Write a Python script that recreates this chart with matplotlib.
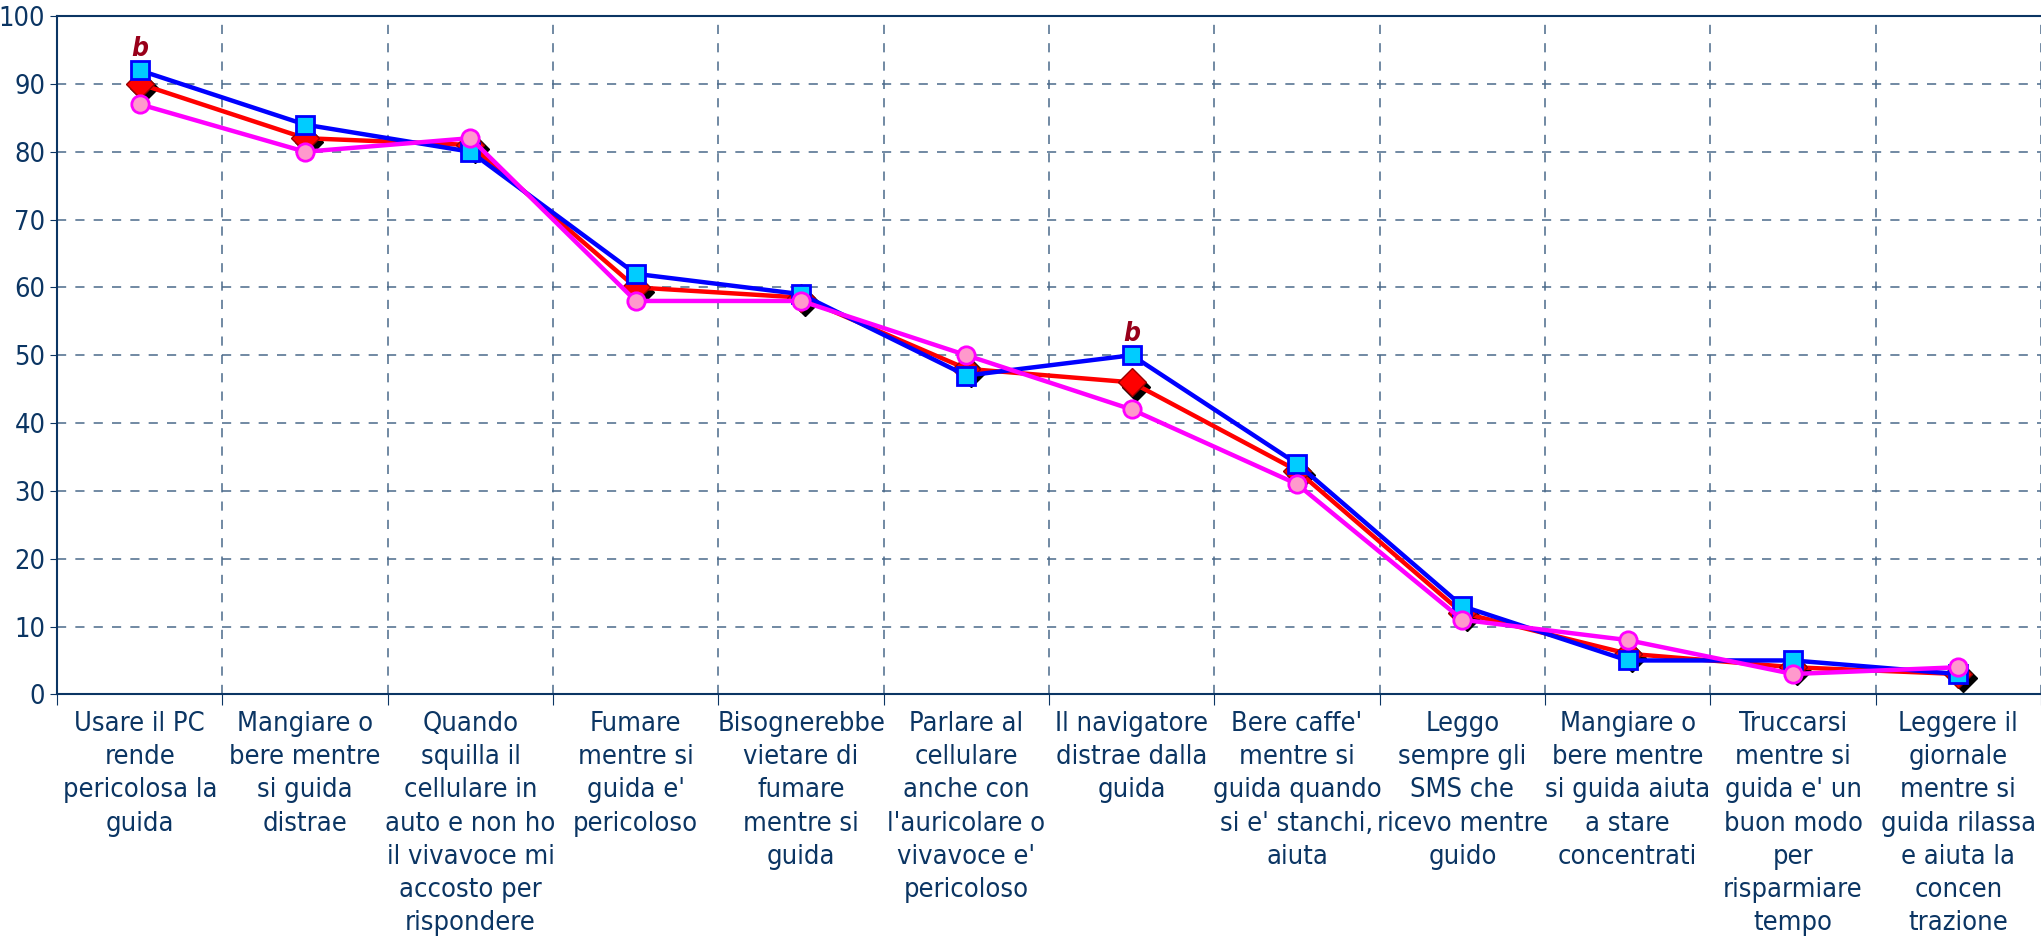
import matplotlib
matplotlib.use("Agg")
import matplotlib.pyplot as plt
import matplotlib.transforms as mtransforms
from matplotlib import font_manager
import numpy as np

# Dati
categorie = [
    "Usare il PC\nrende\npericolosa la\nguida",
    "Mangiare o\nbere mentre\nsi guida\ndistrae",
    "Quando\nsquilla il\ncellulare in\nauto e non ho\nil vivavoce mi\naccosto per\nrispondere",
    "Fumare\nmentre si\nguida e'\npericoloso",
    "Bisognerebbe\nvietare di\nfumare\nmentre si\nguida",
    "Parlare al\ncellulare\nanche con\nl'auricolare o\nvivavoce e'\npericoloso",
    "Il navigatore\ndistrae dalla\nguida",
    "Bere caffe'\nmentre si\nguida quando\nsi e' stanchi,\naiuta",
    "Leggo\nsempre gli\nSMS che\nricevo mentre\nguido",
    "Mangiare o\nbere mentre\nsi guida aiuta\na stare\nconcentrati",
    "Truccarsi\nmentre si\nguida e' un\nbuon modo\nper\nrisparmiare\ntempo",
    "Leggere il\ngiornale\nmentre si\nguida rilassa\ne aiuta la\nconcen\ntrazione",
]
serie_blu = [92, 84, 80, 62, 59, 47, 50, 34, 13, 5, 5, 3]
serie_rossa = [90, 82, 81, 60, 58.5, 48, 46, 33, 12, 6, 4, 3]
serie_rosa = [87, 80, 82, 58, 58, 50, 42, 31, 11, 8, 3, 4]
note_b = [0, 6]  # indici con la lettera "b"

testo = "#0b3563"

# font stretto se disponibile
nomi = {f.name for f in font_manager.fontManager.ttflist}
if "Liberation Sans Narrow" in nomi:
    plt.rcParams['font.family'] = ['Liberation Sans Narrow', 'DejaVu Sans']
else:
    plt.rcParams['font.family'] = ['DejaVu Sans']
    plt.rcParams['font.stretch'] = 'condensed'

fig = plt.figure(figsize=(20.41, 9.46), dpi=100)
ax = fig.add_axes([0.028, 0.266, 0.972, 0.717])

x = np.arange(len(categorie)) + 0.5

# Linea rossa con ombra nera sui rombi
ombra = ax.transData + mtransforms.ScaledTranslation(3/72, -3/72, fig.dpi_scale_trans)
ax.plot(x, serie_rossa, ls="none", marker="D", ms=14, mfc="black", mec="black",
        transform=ombra, zorder=3)
ax.plot(x, serie_rossa, color="#ff0000", lw=3.2, marker="D", ms=14, mfc="#ff0000",
        mec="#990000", mew=1, zorder=4)
ax.plot(x, serie_blu, color="#0000ff", lw=3.2, marker="s", ms=13.5, mfc="#00ccff",
        mec="#0000ff", mew=2, zorder=5)
ax.plot(x, serie_rosa, color="#ff00ff", lw=3.2, marker="o", ms=12.5, mfc="#ff99cc",
        mec="#ff00ff", mew=2, zorder=6)

for i in note_b:
    ax.annotate("b", (x[i], serie_blu[i]), xytext=(0, 6), textcoords="offset points",
                ha="center", va="bottom", fontsize=19, color="#99001a",
                fontweight="bold", fontstyle="italic", family="DejaVu Sans")

ax.set_xlim(0, len(categorie))
ax.set_ylim(0, 100)
ax.set_yticks(range(0, 101, 10))
ax.set_xticks(range(0, len(categorie) + 1))
ax.set_xticklabels([])
ax.set_xticks(x, minor=True)
ax.set_xticklabels(categorie, minor=True, fontsize=19.5, color=testo, linespacing=1.36)
ax.tick_params(axis="x", which="minor", length=0, pad=12)
ax.tick_params(axis="x", which="major", length=8, color=testo)
ax.tick_params(axis="y", length=5, color=testo, labelsize=19.5, labelcolor=testo)

ax.grid(True, which="major", ls=(0, (6, 6)), color="#4a6a8a", lw=1.1)
ax.set_axisbelow(True)
for s in ["left", "bottom", "top"]:
    ax.spines[s].set_color(testo)
    ax.spines[s].set_linewidth(1.5)
ax.spines["right"].set_visible(False)

fig.savefig("out.png", dpi=100)
